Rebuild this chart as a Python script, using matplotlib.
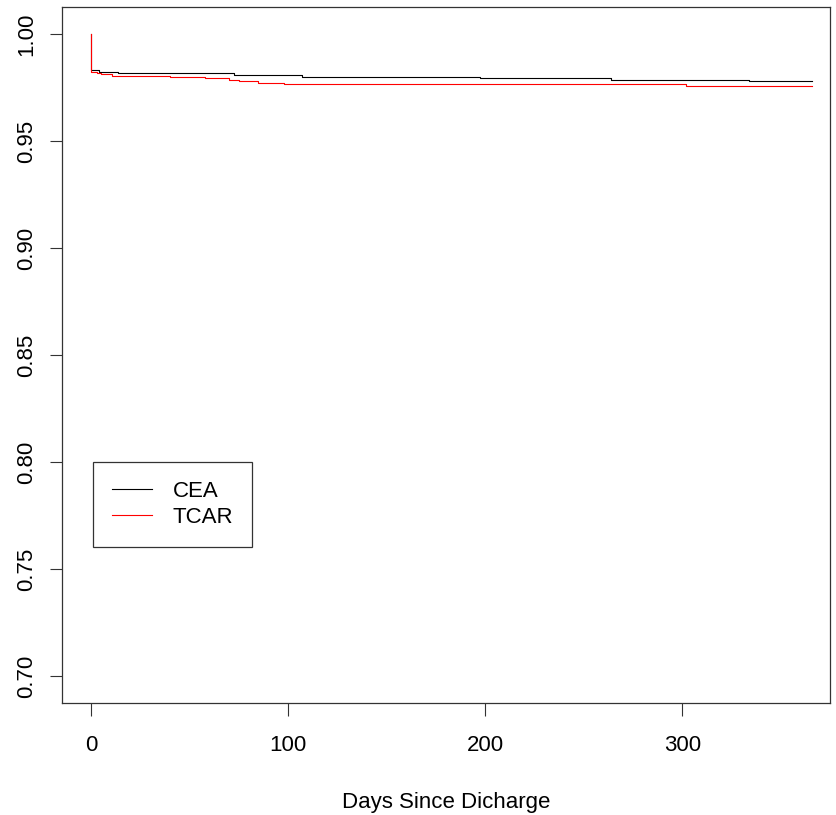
import numpy as np
import matplotlib.pyplot as plt
from matplotlib.lines import Line2D

plt.rcParams['font.family'] = ['Liberation Sans', 'DejaVu Sans']

# Kaplan-Meier style step curves (time in days, survival estimate)
cea_days = [0, 0, 4, 13.5, 72.5, 107, 197.5, 264, 334, 366]
cea_surv = [1.0, 0.9830, 0.9821, 0.9816, 0.9807, 0.9801, 0.9794, 0.9785, 0.9780, 0.9780]

tcar_days = [0, 0, 3, 5, 10.5, 40, 58, 70, 75, 85, 98, 302, 366]
tcar_surv = [1.0, 0.9824, 0.9819, 0.9814, 0.9805, 0.9800, 0.9793, 0.9786, 0.9780,
             0.9771, 0.9768, 0.9756, 0.9756]

x_ticks = [0, 100, 200, 300]
y_ticks = [0.70, 0.75, 0.80, 0.85, 0.90, 0.95, 1.00]

fig = plt.figure(figsize=(8.36, 8.15), dpi=100)
ax = fig.add_axes([62 / 836, 112 / 815, 768 / 836, 696 / 815])

ax.step(cea_days, cea_surv, where='post', color='black', lw=0.8)
ax.step(tcar_days, tcar_surv, where='post', color='red', lw=0.8)

ax.set_xlim(-14.7, 375)
ax.set_ylim(0.6874, 1.0126)
ax.set_xticks(x_ticks)
ax.set_yticks(y_ticks)
ax.set_yticklabels([f"{v:.2f}" for v in y_ticks], rotation=90, va='center')
ax.tick_params(axis='both', direction='out', length=9, width=0.8, labelsize=16,
               color='#333333')
ax.tick_params(axis='x', pad=14)
ax.tick_params(axis='y', pad=9)
for sp in ax.spines.values():
    sp.set_linewidth(0.9)
    sp.set_color('#333333')

ax.set_xlabel("Days Since Dicharge", fontsize=16, labelpad=26)

handles = [Line2D([], [], color='black', lw=0.8), Line2D([], [], color='red', lw=0.8)]
leg = ax.legend(handles, ["CEA", "TCAR"], loc='upper left',
                bbox_to_anchor=(0.040, 0.346), fontsize=16, frameon=True,
                fancybox=False, edgecolor='black', handlelength=1.8,
                handletextpad=0.95, borderpad=0.85, labelspacing=0.22,
                borderaxespad=0)
leg.get_frame().set_linewidth(0.9)

fig.savefig("out.png", dpi=100)
